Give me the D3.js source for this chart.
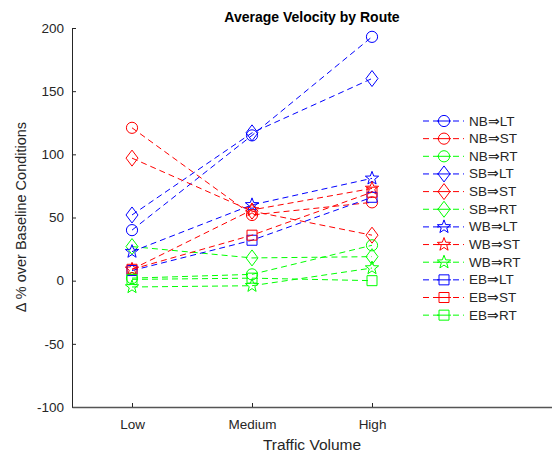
<!DOCTYPE html>
<html><head><meta charset="utf-8">
<script src="https://cdn.jsdelivr.net/npm/d3@7"></script>
<style>body{margin:0;background:#fff;} text{font-family:"Liberation Sans",Arial,Helvetica,sans-serif;}</style>
</head><body>
<svg id="c" width="552" height="455"></svg>
<script>
const categories = ["Low", "Medium", "High"];
const seriesNames = ["NB⇒LT","NB⇒ST","NB⇒RT","SB⇒LT","SB⇒ST","SB⇒RT","WB⇒LT","WB⇒ST","WB⇒RT","EB⇒LT","EB⇒ST","EB⇒RT"];
const seriesColors = ["blue","red","green","blue","red","green","blue","red","green","blue","red","green"];
const seriesMarkers = ["circle","circle","circle","diamond","diamond","diamond","star","star","star","square","square","square"];
const NB_LT = [40, 115, 193];
const NB_ST = [121, 52, 62];
const NB_RT = [2, 5, 28];
const SB_LT = [52, 117, 160];
const SB_ST = [97, 55, 36];
const SB_RT = [27, 18, 19];
const WB_LT = [23, 60, 81];
const WB_ST = [9, 56, 73];
const WB_RT = [-5, -4, 10];
const EB_LT = [8, 32, 66];
const EB_ST = [9, 36, 70];
const EB_RT = [1, 2, 0];
const yTicks = [-100, -50, 0, 50, 100, 150, 200];
const allValues = [NB_LT,NB_ST,NB_RT,SB_LT,SB_ST,SB_RT,WB_LT,WB_ST,WB_RT,EB_LT,EB_ST,EB_RT];

const colorMap = {blue:"#0000ff", red:"#ff0000", green:"#00ff00"};
const svg = d3.select("#c");
const x = d3.scaleLinear().domain([0.5, 4.5]).range([72, 552]);
const y = d3.scaleLinear().domain([-100, 200]).range([407, 28]);
const axisColor = "#262626";

// axes
const yAxis = svg.append("g").attr("transform","translate(72,0)")
  .call(d3.axisLeft(y).tickValues(yTicks).tickFormat(d => String(d)).tickSize(-4).tickPadding(8).tickSizeOuter(0));
yAxis.select(".domain").attr("stroke", axisColor);
yAxis.selectAll(".tick line").attr("stroke", axisColor);
yAxis.selectAll("text").attr("font-size", 13.5).attr("fill", axisColor);

const xAxis = svg.append("g").attr("transform","translate(0,407)")
  .call(d3.axisBottom(x).tickValues([1,2,3]).tickFormat((d,i)=>categories[i]).tickSize(-4).tickPadding(12).tickSizeOuter(0));
xAxis.select(".domain").attr("stroke", "#555").attr("stroke-width", 1.3);
xAxis.selectAll(".tick line").attr("stroke", axisColor);
xAxis.selectAll("text").attr("font-size", 13.5).attr("fill", axisColor);

svg.append("text").attr("x", 312).attr("y", 450).attr("text-anchor","middle")
  .attr("font-size", 15.5).attr("fill", axisColor).text("Traffic Volume");
svg.append("text").attr("transform","translate(26,217) rotate(-90)").attr("text-anchor","middle")
  .attr("font-size", 14.5).attr("fill", axisColor).text("Δ % over Baseline Conditions");
svg.append("text").attr("x", 312).attr("y", 22).attr("text-anchor","middle")
  .attr("font-size", 14).attr("font-weight","bold").attr("fill","#000").text("Average Velocity by Route");

function markerPath(type){
  if(type==="circle") return d3.symbol(d3.symbolCircle, Math.PI*5.6*5.6)();
  if(type==="square") return "M-5,-5H5V5H-5Z";
  if(type==="diamond") return "M0,-8L6,0L0,8L-6,0Z";
  if(type==="star"){
    let p=[];
    for(let k=0;k<10;k++){
      const r = k%2===0 ? 7 : 2.9;
      const a = -Math.PI/2 + k*Math.PI/5;
      p.push([r*Math.cos(a), r*Math.sin(a)]);
    }
    return "M"+p.map(q=>q[0].toFixed(2)+","+q[1].toFixed(2)).join("L")+"Z";
  }
}

const line = d3.line().x((d,i)=>x(i+1)).y(d=>y(d));
const plot = svg.append("g");
allValues.forEach((vals, s) => {
  const col = colorMap[seriesColors[s]];
  plot.append("path").datum(vals).attr("d", line).attr("fill","none")
    .attr("stroke", col).attr("stroke-width", 1).attr("stroke-dasharray","6,4");
  plot.selectAll(null).data(vals).enter().append("path")
    .attr("d", markerPath(seriesMarkers[s]))
    .attr("transform",(d,i)=>`translate(${x(i+1)},${y(d)})`)
    .attr("fill","none").attr("stroke", col).attr("stroke-width", 1);
});

// legend
const lg = svg.append("g");
seriesNames.forEach((name, s) => {
  const col = colorMap[seriesColors[s]];
  const ly = 121 + s*17.65;
  lg.append("line").attr("x1",422).attr("x2",464).attr("y1",ly).attr("y2",ly)
    .attr("stroke", col).attr("stroke-width",1).attr("stroke-dasharray","6,4").attr("stroke-dashoffset",-1);
  lg.append("path").attr("d", markerPath(seriesMarkers[s])).attr("transform",`translate(444,${ly})`)
    .attr("fill","#fff").attr("stroke", col).attr("stroke-width",1);
  lg.append("line").attr("x1",437).attr("x2",451).attr("y1",ly).attr("y2",ly).attr("stroke",col).attr("stroke-width",1);
  lg.append("text").attr("x",469).attr("y",ly+4.5).attr("font-size",13.5).attr("fill",axisColor).text(name);
});
</script>
</body></html>
